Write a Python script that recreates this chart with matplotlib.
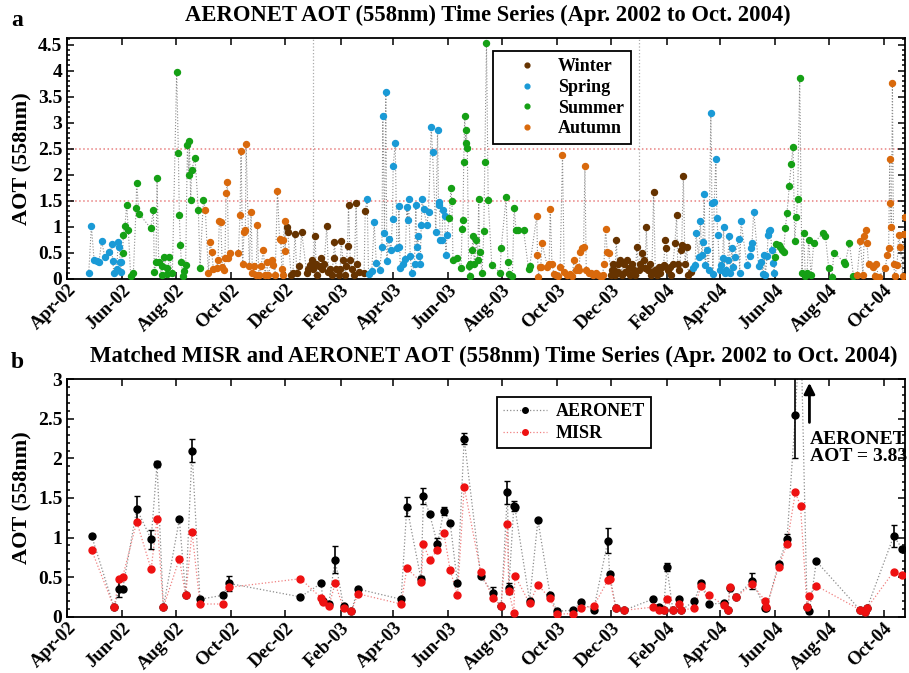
import matplotlib
matplotlib.use('Agg')
import matplotlib.pyplot as plt
import matplotlib.dates as mdates
from matplotlib.ticker import MultipleLocator, FormatStrFormatter
from matplotlib.lines import Line2D
import pandas as pd
import numpy as np

plt.rcParams['font.family'] = ['Liberation Serif', 'DejaVu Serif']
plt.rcParams['font.weight'] = 'bold'
plt.rcParams['axes.labelweight'] = 'bold'

start = pd.Timestamp('2002-04-01')
end_day = 938

# panel a: daily AERONET AOT, day = days since 1 Apr 2002
top_day = [
    24, 27, 30, 33, 35.5, 38.5, 42, 47, 49.7, 50.8, 52.3, 55.3, 57.1, 58.3, 59.1, 60.2, 60.6,
    62, 62.8, 64.6, 66.5, 68.4, 71, 74, 77, 77.7, 80.3, 93.4, 96.4, 97.5, 99.4, 100.5, 102.4,
    105.7, 106.5, 108.3, 111.3, 112, 114.3, 117.7, 122.5, 124.4, 125.5, 126.6, 127.8, 129.2,
    130.7, 132.6, 134.5, 136, 136.7, 138.2, 139.3, 143.1, 146.8, 148.6, 152.4,
    154.6, 158, 159.9, 161.7, 163.6, 167.3, 168.8, 170.3, 171.8, 173.7, 175.5, 176.6, 177.8,
    179.3, 180.4, 182.6, 191.6, 193.4, 194.6, 196.4, 197.9, 199.4, 200.2, 203.9, 205.8, 207.3,
    209.2, 211.4, 212.9, 214.4, 217, 219.6, 221.5, 223.3, 225.2, 228.9, 230.8, 232.8, 235.3,
    237.7, 239.1, 240.2, 241.3, 242.1, 243.6, 243.8,
    245.7, 246.9, 250.6, 252.5, 255.1, 257, 260, 262.5, 268.2, 270.1, 271.9, 273.8, 275.6,
    277.5, 278.6, 280.1, 282, 283.9, 285.7, 287.6, 290.6, 292.5, 294.4, 296.2, 298.1, 299.2,
    301.1, 303.7, 305.6, 306.7, 308.6, 311.2, 312.3, 313.8, 314.9, 316.8, 318.6, 321.2, 323.4,
    324.9, 327.1, 332.4, 333.6,
    335.8, 337.3, 341, 343.6, 346, 349.7, 352.3, 353.3, 355.2, 356.7, 357.8, 359.7, 362.3,
    364.2, 364.9, 367.2, 369.1, 370.9, 371.3, 372.8, 376.4, 378.3, 380.2, 381, 382.1, 384,
    385.8, 388.8, 390.3, 391.4, 392.5, 394, 395.2, 396.3, 397.4, 398.9, 402.7, 404.5, 407.5,
    409, 412.7, 414.6, 415.7, 416.5, 417.6, 419.5, 420.6, 422.5, 424, 425.1,
    427.7, 429.6, 430.7, 431.9, 436.4, 440.9, 442, 443.1, 443.9, 445, 446.1, 446.8, 447.9,
    449.4, 450.6, 451.3, 453.2, 454.3, 455.8, 458.1, 459.6, 460.7, 461.8, 464.5, 466.4, 467.5,
    469.4, 471.3, 475.3, 484.7, 485.8, 491.4, 493.4, 494.9, 498.4, 500.3, 502.6, 505.2, 510.9,
    516.5, 517.8,
    525.7, 526.5, 527.6, 528.8, 530.2, 531.4, 537.7, 539.6, 540.8, 542.7, 545.1, 547.4, 550,
    551.9, 554.5, 556.4, 559.4, 562.4, 565, 567.6, 569.5, 571.4, 572.9, 574.4, 576.2, 578.1,
    579.6, 581.1, 583.7, 586.7, 589.2, 591.9, 594.5, 597.2, 599.4, 600.9, 602.8, 604.6, 606.1,
    609.2, 609.7, 610.8, 612.3, 613.5, 614.6, 616.1, 617.2, 619.1, 621, 622.9, 624.7, 626.6,
    628.5, 630.3, 632.2, 634.1, 635.9, 637.8, 639.7, 641.5, 643.4, 645.3, 647.1, 648.3, 650.1,
    652, 653.5, 654.6, 656.5, 658.4, 660.2, 662.1, 664, 665.8, 667.7, 669.6, 670.7, 672.6,
    674.4, 675.9, 678.2, 680.4, 682.3, 683.5, 685.3, 687.2, 688, 689.8, 691.7, 693.6, 695.4,
    698.1,
    701.1, 703, 704.1, 706.9, 708.8, 710.6, 711.8, 713.2, 714.3, 716.2, 718.1, 720.6, 721.8,
    722.9, 724.4, 726.3, 727.4, 728.5, 730.4, 731.9, 733.8, 734.9, 736.1, 737.9, 739.4, 741.3,
    742.4, 744.3, 745.4, 747.3, 751.8, 752.9, 754.4, 761.1, 764.1, 765.6, 766.7, 768.6, 774.2,
    776.8, 779.1, 780.6, 781.7, 783.6, 784.7, 785.8, 787.3, 788.8, 790.3, 791.5,
    792.9, 794, 796.7, 798.5, 800.4, 802.1, 804, 805.9, 808.4, 810.7, 812.6, 814.5, 816.4,
    817.8, 820.1, 822.6, 824.5, 826.4, 828.3, 830.1, 832.8, 835.8, 846.3, 848.9, 852.6, 856.4,
    858.2, 869.7, 870.9, 875.8, 880.3,
    884.5, 887.9, 890.9, 892.4, 894.2, 895.4, 897.2, 901.7, 904, 905.1, 908.5, 916, 917.9,
    919.7, 920.9, 921.6, 922.7, 923.9, 925.3, 926.5, 929.1, 930.9, 932.8, 935.4, 936.6, 937.7,
]
top_aot = [
    0.10, 1.01, 0.36, 0.34, 0.32, 0.72, 0.42, 0.51, 0.66, 0.34, 0.10, 0.18, 0.71, 0.61, 0.32, 0.13, 0.32,
    0.49, 0.84, 1.01, 1.42, 0.93, 0.05, 0.10, 1.35, 1.83, 1.25, 0.97, 1.31, 0.13, 0.32, 1.93, 0.32,
    0.07, 0.24, 0.41, 0.21, 0.08, 0.41, 0.10, 3.98, 2.41, 1.22, 0.65, 0.32, 0.05,
    0.15, 0.26, 2.57, 1.99, 2.64, 1.51, 2.09, 2.32, 1.31, 0.20, 1.51,
    1.32, 0.10, 0.71, 0.52, 0.18, 0.20, 0.36, 1.11, 1.08, 0.23, 0.16, 0.40, 1.64,
    1.85, 0.40, 0.50, 0.50, 1.22, 2.46, 0.29, 0.90, 0.93, 2.59, 0.24, 1.29, 0.11,
    0.24, 0.07, 1.04, 0.07, 0.24, 0.55, 0.07, 0.32, 0.07, 0.36, 0.26, 0.07, 1.69,
    0.77, 0.74, 0.18, 0.07, 0.75, 1.11, 0.54,
    1.00, 0.90, 0.07, 0.10, 0.86, 0.10, 0.24, 0.89, 0.10, 0.18, 0.26, 0.36, 0.18,
    0.82, 0.29, 0.07, 0.24, 0.40, 0.18, 0.29, 1.01, 0.13, 0.18, 0.07, 0.40, 0.71,
    0.18, 0.07, 0.18, 0.73, 0.36, 0.07, 0.24, 0.63, 1.42, 0.36, 0.18, 0.07, 1.46,
    0.29, 0.13, 0.11, 1.30,
    1.53, 0.08, 0.15, 1.08, 0.31, 0.16, 0.60, 3.12, 0.88, 3.59, 0.34, 0.77, 0.55,
    1.15, 2.17, 2.60, 0.58, 0.61, 1.40, 0.20, 0.29, 0.37, 1.38, 1.13, 1.53, 0.43,
    0.11, 0.29, 1.42, 0.61, 0.81, 0.43, 0.28, 1.03, 1.53, 1.34, 1.04, 1.29, 2.92,
    2.43, 0.90, 2.86, 1.42, 1.48, 0.74, 0.75, 1.32, 1.20, 0.45, 0.84,
    1.16, 1.74, 1.49, 0.36, 0.40, 0.20, 0.95, 1.13, 2.25, 3.13, 2.60, 2.86, 2.51,
    0.24, 0.05, 0.29, 0.55, 0.81, 0.29, 0.74, 0.36, 1.53, 0.52, 0.10, 0.92, 2.25,
    4.54, 1.51, 0.27, 0.11, 0.58, 1.56, 0.32, 0.09, 0.05, 1.36, 0.93, 0.93, 0.93,
    0.18, 0.24,
    1.21, 0.45, 0.04, 0.23, 0.23, 0.69, 0.23, 0.29, 1.34, 0.28, 0.08, 0.07, 0.05,
    0.23, 2.38, 0.13, 0.07, 0.08, 0.05, 0.36, 0.16, 0.23, 0.16, 0.52, 0.58, 0.61,
    2.17, 0.16, 0.10, 0.10, 0.07, 0.11, 0.07, 0.04, 0.07, 0.29, 0.95, 0.52, 0.49,
    0.07, 0.16, 0.29, 0.16, 0.07, 0.75, 0.29, 0.13, 0.36, 0.07, 0.29, 0.13, 0.36,
    0.20, 0.07, 0.29, 0.16, 0.07, 0.61, 0.16, 0.29, 0.49, 0.36, 0.20, 0.99, 0.16,
    0.29, 0.07, 0.13, 1.66, 0.16, 0.07, 0.23, 0.10, 0.23, 0.26, 0.74, 0.58, 0.16,
    0.23, 0.07, 0.29, 0.68, 1.22, 0.29, 0.16, 0.55, 0.65, 1.98, 0.29, 0.61, 0.07,
    0.13,
    0.20, 0.26, 0.87, 0.42, 1.10, 0.45, 0.71, 1.62, 0.26, 0.55, 0.16, 3.18, 1.45,
    0.09, 1.48, 2.30, 1.16, 0.84, 0.16, 0.26, 0.39, 1.00, 0.10, 0.16, 0.36, 0.82,
    0.10, 0.58, 0.23, 0.42, 0.77, 0.11, 1.10, 0.26, 0.44, 0.58, 0.68, 1.29, 0.24,
    0.32, 0.08, 0.45, 0.07, 0.43, 0.84, 0.91, 0.93, 0.55, 0.30, 0.11,
    0.42, 0.66, 0.64, 0.61, 0.55, 0.52, 0.97, 1.27, 1.78, 2.21, 2.54, 0.73, 1.18,
    1.54, 3.85, 0.11, 0.87, 0.05, 0.10, 0.75, 0.07, 0.68, 0.88, 0.82, 0.20, 0.04,
    0.50, 0.32, 0.29, 0.68, 0.05,
    0.07, 0.73, 0.07, 0.81, 0.93, 0.68, 0.29, 0.23, 0.05, 0.29, 0.04, 0.20, 0.45,
    0.58, 2.30, 1.46, 1.00, 3.77, 0.29, 0.05, 0.26, 0.84, 0.61, 0.05, 0.86, 1.19,
]

seasons = ['Winter', 'Spring', 'Summer', 'Autumn']
season_colors = ['#663300', '#1a9ad6', '#15a015', '#d9690c']
season_months = [[12, 1, 2], [3, 4, 5], [6, 7, 8], [9, 10, 11]]

# panel b: matched MISR / AERONET
match_day = [
    27.3, 52.3, 58.4, 62.0, 77.8, 93.9, 100.5, 107.6, 125.5, 132.6, 139.7, 148.6, 174.0, 181.1,
    261.0, 284.2, 286.4, 292.8, 299.9, 309.3, 318.2, 325.3, 373.8, 380.2, 396.2, 398.8, 405.6,
    414.5, 421.6, 428.7, 436.9, 444.4, 463.0, 476.5, 485.8, 492.9, 494.4, 500.0, 501.2, 517.6,
    527.0, 540.7, 548.2, 566.1, 575.1, 589.3, 605.3, 607.2, 614.3, 623.2, 655.3, 662.0, 667.6,
    671.4, 678.1, 685.2, 687.5, 702.1, 709.6, 718.2, 735.0, 739.8, 741.7, 748.8, 766.7, 781.6,
    782.8, 796.6, 805.9, 815.2, 821.0, 828.3, 831.0, 838.7, 887.3, 893.6, 895.5, 925.4, 934.8,
]
aeronet_aot = [
    1.02, 0.12, 0.35, 0.35, 1.36, 0.98, 1.93, 0.12, 1.23, 0.27, 2.10, 0.22, 0.27, 0.42,
    0.25, 0.42, 0.20, 0.16, 0.72, 0.13, 0.07, 0.35, 0.22, 1.39, 0.47, 1.53, 1.30,
    0.92, 1.34, 1.19, 0.42, 2.25, 0.51, 0.30, 0.13, 1.57, 0.36, 1.40, 1.38, 0.20,
    1.22, 0.27, 0.07, 0.08, 0.18, 0.08, 0.96, 0.54, 0.11, 0.08, 0.22, 0.12, 0.08,
    0.63, 0.08, 0.22, 0.08, 0.20, 0.43, 0.16, 0.17, 0.08, 0.36, 0.25, 0.45, 0.11,
    0.11, 0.67, 0.98, 2.55, 3.83, 0.12, 0.07, 0.70, 0.09, 0.06, 0.11, 1.02, 0.86,
]
aeronet_err = [
    0.02, 0.02, 0.10, 0.03, 0.16, 0.12, 0.04, 0.02, 0.02, 0.02, 0.15, 0.02, 0.02, 0.10,
    0.02, 0.02, 0.02, 0.02, 0.17, 0.02, 0.02, 0.02, 0.02, 0.12, 0.04, 0.10, 0.02,
    0.07, 0.05, 0.02, 0.02, 0.07, 0.02, 0.08, 0.02, 0.14, 0.07, 0.06, 0.03, 0.02,
    0.02, 0.02, 0.02, 0.02, 0.02, 0.02, 0.16, 0.02, 0.02, 0.02, 0.02, 0.02, 0.02,
    0.05, 0.02, 0.02, 0.02, 0.02, 0.02, 0.02, 0.02, 0.02, 0.02, 0.02, 0.10, 0.02,
    0.02, 0.02, 0.07, 0.55, 0.00, 0.02, 0.02, 0.02, 0.02, 0.02, 0.02, 0.14, 0.02,
]
misr_aot = [
    0.84, 0.12, 0.48, 0.50, 1.20, 0.60, 1.23, 0.12, 0.73, 0.27, 1.07, 0.16, 0.16, 0.37,
    0.48, 0.24, 0.19, 0.13, 0.42, 0.11, 0.07, 0.29, 0.16, 0.61, 0.44, 0.92, 0.72,
    0.84, 1.06, 0.59, 0.27, 1.64, 0.56, 0.24, 0.13, 1.17, 0.32, 0.05, 0.52, 0.17,
    0.40, 0.23, 0.03, 0.04, 0.11, 0.13, 0.46, 0.48, 0.11, 0.08, 0.12, 0.08, 0.08,
    0.22, 0.08, 0.16, 0.08, 0.11, 0.39, 0.27, 0.15, 0.09, 0.37, 0.25, 0.41, 0.20,
    0.12, 0.63, 0.92, 1.57, 1.40, 0.12, 0.26, 0.39, 0.09, 0.06, 0.11, 0.57, 0.53,
]


def to_dates(days):
    return start + pd.to_timedelta(np.array(days), unit='D')


top_dates = to_dates(top_day)
top_vals = np.array(top_aot)
match_dates = to_dates(match_day)

fig = plt.figure(figsize=(9.09, 6.73), dpi=100)
ax1 = fig.add_axes([0.074, 0.586, 0.9216, 0.357])
ax2 = fig.add_axes([0.074, 0.0837, 0.9216, 0.3527])


def style_axis(ax, ymax):
    ax.set_xlim(start, start + pd.Timedelta(days=end_day))
    ax.set_ylim(0, ymax)
    ax.xaxis.set_major_locator(mdates.MonthLocator(bymonth=[2, 4, 6, 8, 10, 12]))
    ax.xaxis.set_major_formatter(mdates.DateFormatter('%b-%y'))
    ax.yaxis.set_major_locator(MultipleLocator(0.5))
    ax.yaxis.set_minor_locator(MultipleLocator(0.1))
    ax.yaxis.set_major_formatter(FormatStrFormatter('%g'))
    ax.tick_params(which='both', direction='in', top=True, right=True, width=1.1, labelsize=14)
    ax.tick_params(which='major', length=5)
    ax.tick_params(which='minor', length=2.5)
    ax.tick_params(axis='x', which='minor', top=False, bottom=False)
    ax.tick_params(axis='x', labelsize=13.5, pad=2)
    for lab in ax.get_xticklabels():
        lab.set_rotation(45)
        lab.set_ha('right')
        lab.set_rotation_mode('anchor')
        lab.set_fontweight('bold')
    for lab in ax.get_yticklabels():
        lab.set_fontweight('bold')
    for sp in ax.spines.values():
        sp.set_linewidth(1.3)
    ax.set_ylabel('AOT (558nm)', fontsize=16, fontweight='bold', labelpad=4)


# --- panel a ---
style_axis(ax1, 4.62)
for yr in ['2003-01-01', '2004-01-01']:
    ax1.axvline(pd.Timestamp(yr), color='#aaaaaa', ls=':', lw=0.9, zorder=1)
for lvl in [1.5, 2.5]:
    ax1.axhline(lvl, color='#e88080', ls=':', lw=1.1, zorder=1)
ax1.plot(top_dates, top_vals, color='#8c8c8c', ls=':', lw=0.8, zorder=2)
months = top_dates.month
for name, col, mlist in zip(seasons, season_colors, season_months):
    sel = np.isin(months, mlist)
    ax1.plot(top_dates[sel], top_vals[sel], ls='none', marker='o', ms=4.3,
             color=col, mec=col, label=name, zorder=3)
leg1 = ax1.legend(loc='upper left', bbox_to_anchor=(0.508, 0.947), borderaxespad=0,
                  fontsize=13, markerscale=0.8, handlelength=3.0, handletextpad=0.2,
                  fancybox=False, edgecolor='black', framealpha=1,
                  borderpad=0.4, labelspacing=0.2)
leg1.get_frame().set_linewidth(1.3)
for t in leg1.get_texts():
    t.set_fontweight('bold')

# --- panel b ---
style_axis(ax2, 3)
ax2.plot(match_dates, aeronet_aot, color='#8c8c8c', ls=':', lw=0.9, zorder=2)
ax2.plot(match_dates, misr_aot, color='#f08080', ls=':', lw=0.9, zorder=2)
ax2.errorbar(match_dates, aeronet_aot, yerr=aeronet_err, fmt='none', ecolor='black',
             elinewidth=1.2, capsize=2, capthick=1, zorder=3)
ax2.plot(match_dates, aeronet_aot, ls='none', marker='o', ms=5, color='black', zorder=4)
ax2.plot(match_dates, misr_aot, ls='none', marker='o', ms=5, color='#ee1111', zorder=4)

handles = [
    Line2D([], [], color='#8c8c8c', ls=':', lw=0.9, marker='o', ms=4, mfc='black', mec='black'),
    Line2D([], [], color='#f08080', ls=':', lw=0.9, marker='o', ms=4, mfc='#ee1111', mec='#ee1111'),
]
leg2 = ax2.legend(handles, ['AERONET', 'MISR'], loc='upper left', bbox_to_anchor=(0.513, 0.925),
                  borderaxespad=0, fontsize=13, handlelength=2.4, handletextpad=0.5,
                  fancybox=False, edgecolor='black', framealpha=1, borderpad=0.35,
                  labelspacing=0.25)
leg2.get_frame().set_linewidth(1.3)
for t in leg2.get_texts():
    t.set_fontweight('bold')

arrow_x = start + pd.Timedelta(days=831)
ax2.annotate('', xy=(arrow_x, 2.99), xytext=(arrow_x, 2.42),
             arrowprops=dict(arrowstyle='-|>', color='black', lw=2, mutation_scale=16))
ax2.text(start + pd.Timedelta(days=831.5), 2.35, 'AERONET\nAOT = 3.83', fontsize=14,
         fontweight='bold', va='top', ha='left', linespacing=1.05)

# titles and panel letters
fig.text(0.537, 0.977, 'AERONET AOT (558nm) Time Series (Apr. 2002 to Oct. 2004)',
         ha='center', va='center', fontsize=16.3, fontweight='bold')
fig.text(0.543, 0.470, 'Matched MISR and AERONET AOT (558nm) Time Series (Apr. 2002 to Oct. 2004)',
         ha='center', va='center', fontsize=16.4, fontweight='bold')
fig.text(0.012, 0.970, 'a', fontsize=17, fontweight='bold', va='center')
fig.text(0.012, 0.462, 'b', fontsize=17, fontweight='bold', va='center')

fig.savefig('out.png', dpi=100)
